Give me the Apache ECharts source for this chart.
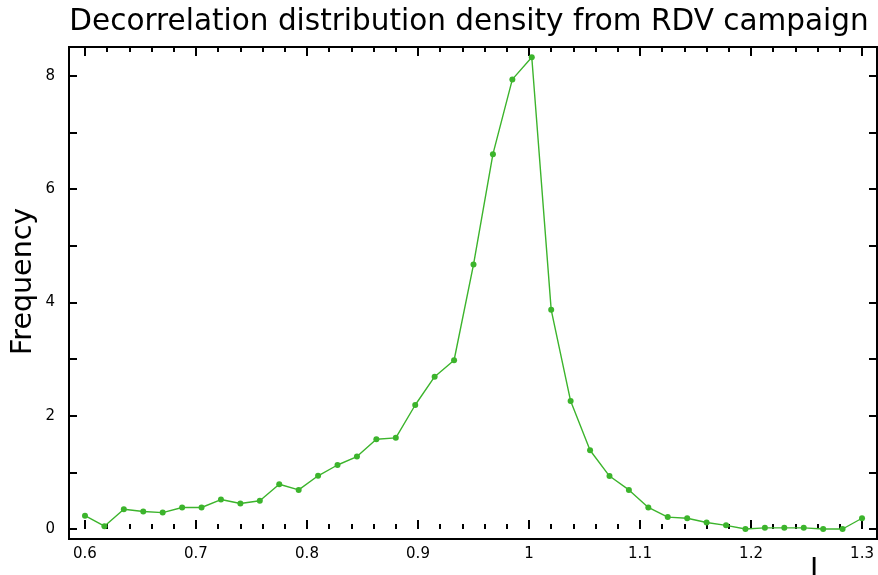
<!DOCTYPE html>
<html>
<head>
<meta charset="utf-8">
<script src="https://cdn.jsdelivr.net/npm/echarts@6/dist/echarts.min.js"></script>
<style>html,body{margin:0;padding:0;background:#fff}#c{width:878px;height:575px}</style>
</head>
<body>
<div id="c"></div>
<script>
var xValues = [0.6, 0.6175, 0.635, 0.6525, 0.67, 0.6875, 0.705, 0.7225, 0.74, 0.7575,
  0.775, 0.7925, 0.81, 0.8275, 0.845, 0.8625, 0.88, 0.8975, 0.915, 0.9325,
  0.95, 0.9675, 0.985, 1.0025, 1.02, 1.0375, 1.055, 1.0725, 1.09, 1.1075,
  1.125, 1.1425, 1.16, 1.1775, 1.195, 1.2125, 1.23, 1.2475, 1.265, 1.2825, 1.3];
var frequency = [0.235, 0.05, 0.35, 0.31, 0.29, 0.38, 0.38, 0.52, 0.45, 0.50,
  0.79, 0.69, 0.94, 1.13, 1.28, 1.585, 1.61, 2.19, 2.69, 2.98,
  4.67, 6.62, 7.94, 8.33, 3.87, 2.26, 1.39, 0.935, 0.69, 0.38,
  0.21, 0.19, 0.115, 0.065, 0.0, 0.02, 0.02, 0.02, 0.0, 0.0, 0.19];
var xMajorTicks = [0.6, 0.7, 0.8, 0.9, 1.0, 1.1, 1.2, 1.3];
var xMinorTicks = [0.58, 0.62, 0.64, 0.66, 0.68, 0.72, 0.74, 0.76, 0.78, 0.82, 0.84, 0.86, 0.88,
  0.92, 0.94, 0.96, 0.98, 1.02, 1.04, 1.06, 1.08, 1.12, 1.14, 1.16, 1.18,
  1.22, 1.24, 1.26, 1.28, 1.32];
var yTicks = [0, 1, 2, 3, 4, 5, 6, 7, 8];
var yLabels = [0, 2, 4, 6, 8];
var titleText = 'Decorrelation distribution density from RDV campaign';
var yName = 'Frequency';

var XMIN = 0.5856, XMAX = 1.3135, YMIN = -0.1766, YMAX = 8.512;
var font = 'DejaVu Sans';

function xAx(pos, ticks, len, labels) {
  return {
    type: 'value', position: pos, min: XMIN, max: XMAX,
    axisLine: {show: false},
    splitLine: {show: false},
    axisTick: {show: true, inside: true, length: len, customValues: ticks,
      lineStyle: {color: '#000', width: 2}},
    axisLabel: labels ? {show: true, customValues: ticks, color: '#000', fontFamily: font,
      fontSize: 15, margin: 8, formatter: function (v) { return String(+v.toFixed(2)); }} : {show: false}
  };
}
function yAx(pos, labels) {
  return {
    type: 'value', position: pos, min: YMIN, max: YMAX,
    axisLine: {show: false},
    splitLine: {show: false},
    axisTick: {show: true, inside: true, length: 8, customValues: yTicks,
      lineStyle: {color: '#000', width: 2}},
    axisLabel: labels ? {show: true, customValues: yLabels, color: '#000', fontFamily: font,
      fontSize: 15, margin: 14} : {show: false}
  };
}

var chart = echarts.init(document.getElementById('c'), null, {renderer: 'canvas'});
chart.setOption({
  animation: false,
  backgroundColor: '#fff',
  title: {text: titleText, left: 464, top: 2, textAlign: 'center',
    textStyle: {fontFamily: font, fontSize: 29.5, fontWeight: 'normal', color: '#000'}},
  grid: {left: 69, top: 47, width: 808, height: 492, show: true,
    borderColor: '#000', borderWidth: 2, backgroundColor: 'transparent'},
  xAxis: [
    xAx('bottom', xMajorTicks, 9, true),
    xAx('bottom', xMinorTicks, 5, false),
    xAx('top', xMajorTicks, 9, false),
    xAx('top', xMinorTicks, 5, false)
  ],
  yAxis: [yAx('left', true), yAx('right', false)],
  graphic: [
    {type: 'text', x: 9, y: 355, rotation: Math.PI / 2, originX: 0, originY: 0,
      style: {text: yName, fontFamily: font, fontSize: 28.5, fill: '#000',
        align: 'left', verticalAlign: 'top'}},
    {type: 'text', x: 810, y: 557,
      style: {text: 'I', fontFamily: font, fontSize: 28, fill: '#000'}}
  ],
  series: [{
    type: 'line',
    xAxisIndex: 0, yAxisIndex: 0,
    data: xValues.map(function (x, i) { return [x, frequency[i]]; }),
    symbol: 'circle', symbolSize: 6,
    itemStyle: {color: '#3cb42c'},
    lineStyle: {color: '#3cb42c', width: 1.4}
  }]
});
</script>
</body>
</html>
